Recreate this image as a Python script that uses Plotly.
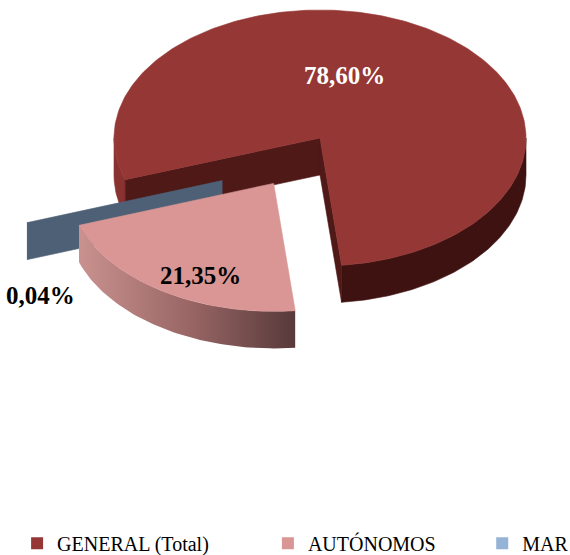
import numpy as np
import plotly.graph_objects as go

# ---- data -------------------------------------------------------------
categories = ["GENERAL (Total)", "AUTÓNOMOS", "MAR"]
values = [78.60, 21.35, 0.04]

# ---- style ------------------------------------------------------------
TOP_COLORS = ["#953735", "#D99694", "#95B3D7"]
WALL_COLORS = ["#4E1917", "#B07674", "#4E6075"]
SIDE_FRONT = ["#3D1211", None, "#4E6075"]
SIDE_BACK_LEFT = "#8A3230"
PINK_SIDE_SCALE = [[0.0, "#C9928F"], [0.5, "#9A6766"], [1.0, "#58393A"]]
LABEL_COLORS = ["white", "black", "black"]

A, B, DEPTH = 206.0, 128.0, 37.0      # ellipse half-axes and slab thickness (px)
START_ANGLE = 199.0                   # first slice edge, slices run clockwise
EXPLODE = [0.0, 0.42, 0.58]           # pull-out distance (fraction of radius)
EXPLODE_DIR = [None, None, 215.0]     # explicit pull direction, else mid-angle
LABEL_POLAR = [(76.0, 0.50), (243.5, 0.80), (225.5, 1.26)]

FONT = "Liberation Serif"


def fmt_pct(v):
    return f"{v:.2f}".replace(".", ",") + "%"


def rim(theta_deg, off, z=0.0, r=1.0):
    t = np.radians(theta_deg)
    return off[0] + r * A * np.cos(t), off[1] + r * B * np.sin(t) - z


def arc(t1, t2, off, z=0.0, n=None):
    if n is None:
        n = max(2, int(abs(t2 - t1) / 1.0) + 2)
    ts = np.linspace(t1, t2, n)
    xs, ys = rim(ts, off, z)
    return list(xs), list(ys)


def front_ranges(lo, hi):
    """Parts of [lo, hi] where the outer side faces the viewer (sin < 0)."""
    out = []
    for k in (-2, -1, 0, 1):
        a, b = -180.0 + 360 * k, 0.0 + 360 * k
        s, e = max(lo, a), min(hi, b)
        if e > s:
            out.append((s, e))
    return out


def poly(fig, xs, ys, color, gradient=None, edge=0.6):
    kw = dict(
        x=xs + [xs[0]], y=ys + [ys[0]], mode="lines", fill="toself",
        line=dict(width=edge if gradient is None else 0, color=color or "rgba(0,0,0,0)"),
        hoverinfo="skip", showlegend=False,
    )
    if gradient is not None:
        kw["fillgradient"] = dict(type="horizontal", colorscale=gradient)
    else:
        kw["fillcolor"] = color
    fig.add_trace(go.Scatter(**kw))


# ---- slice angles -----------------------------------------------------
total = float(sum(values))
spans = []
cur = START_ANGLE
for v in values:
    hi = cur
    lo = cur - 360.0 * v / total
    spans.append((lo, hi))
    cur = lo

offsets = []
for (lo, hi), pull, d in zip(spans, EXPLODE, EXPLODE_DIR):
    m = np.radians(d if d is not None else (lo + hi) / 2.0)
    offsets.append((pull * A * np.cos(m), pull * B * np.sin(m)))

fig = go.Figure()

# draw back to front: GENERAL, MAR, AUTÓNOMOS
for i in (0, 2, 1):
    lo, hi = spans[i]
    off = offsets[i]
    apex_t = (off[0], off[1])
    apex_b = (off[0], off[1] - DEPTH)
    thin = (hi - lo) < 1.0

    # outer curved side
    for s, e in front_ranges(lo, hi):
        xt, yt = arc(s, e, off, 0.0)
        xb, yb = arc(e, s, off, DEPTH)
        if i == 1:
            poly(fig, xt + xb, yt + yb, None, gradient=PINK_SIDE_SCALE)
        else:
            mid = (s + e) / 2.0
            col = SIDE_BACK_LEFT if (i == 0 and np.cos(np.radians(mid)) < 0) else SIDE_FRONT[i]
            poly(fig, xt + xb, yt + yb, col)

    # radial walls facing the viewer
    for t, visible in ((hi, np.cos(np.radians(hi)) < 0), (lo, np.cos(np.radians(lo)) > 0)):
        if not visible:
            continue
        rt = rim(t, off, 0.0)
        rb = rim(t, off, DEPTH)
        xs = [apex_t[0], rt[0], rb[0], apex_b[0]]
        ys = [apex_t[1], rt[1], rb[1], apex_b[1]]
        poly(fig, xs, ys, WALL_COLORS[i])

    # top face
    xa, ya = arc(lo, hi, off, 0.0)
    poly(fig, [apex_t[0]] + xa, [apex_t[1]] + ya, TOP_COLORS[i], edge=0 if thin else 0.6)

# ---- value labels -----------------------------------------------------
for i, v in enumerate(values):
    ang, r = LABEL_POLAR[i]
    lx, ly = rim(ang, offsets[i], 0.0, r)
    fig.add_annotation(
        x=lx, y=ly, xref="x", yref="y", text=fmt_pct(v), showarrow=False,
        font=dict(family=FONT, size=25, color=LABEL_COLORS[i], weight="bold"),
    )

# ---- legend (one legend box per entry) --------------------------------
legend_names = ["legend", "legend2", "legend3"]
legend_x = [0.03, 0.47, 0.846]
for name, col, lg in zip(categories, TOP_COLORS, legend_names):
    fig.add_trace(go.Scatter(
        x=[None], y=[None], mode="markers", name=name, legend=lg,
        marker=dict(symbol="square", size=12, color=col),
        hoverinfo="skip", showlegend=True,
    ))

legend_style = dict(
    orientation="h", xanchor="left", yanchor="middle", y=0.021,
    font=dict(family=FONT, size=20, color="black"), bgcolor="rgba(0,0,0,0)",
)
fig.update_layout(
    width=570, height=555,
    margin=dict(l=0, r=0, t=0, b=0, autoexpand=False),
    paper_bgcolor="white", plot_bgcolor="white",
    xaxis=dict(range=[-320, 250], visible=False, fixedrange=True),
    yaxis=dict(range=[138 - 555, 138], visible=False, fixedrange=True),
    legend=dict(x=legend_x[0], **legend_style),
    legend2=dict(x=legend_x[1], **legend_style),
    legend3=dict(x=legend_x[2], **legend_style),
)

fig.write_html("out.html")
